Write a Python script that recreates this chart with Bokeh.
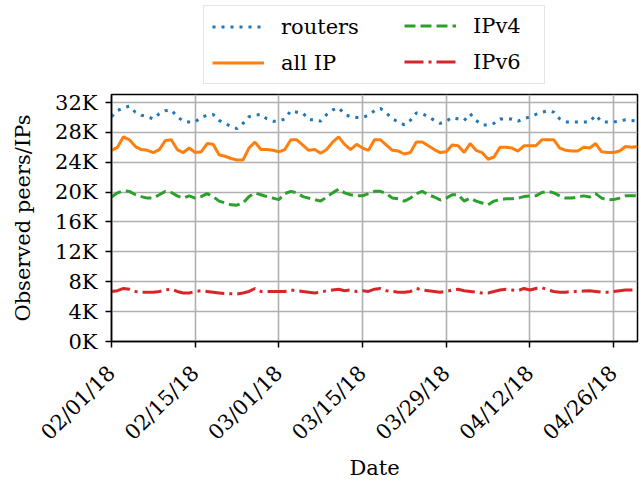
from datetime import datetime, timedelta

from bokeh.plotting import figure
from bokeh.layouts import column
from bokeh.models import (Legend, LegendItem, FixedTicker, DatetimeTickFormatter,
                          Range1d, ColumnDataSource)
from bokeh.embed import file_html
from bokeh.resources import INLINE

# ---------------- data (thousands) ----------------
start_date = datetime(2018, 2, 1)
n_days = 89

routers_k = [30.1, 30.9, 31.3, 31.5, 30.7, 30.3, 30.1, 29.8, 30.5, 30.9,
             31.0, 30.1, 29.5, 29.4, 29.4, 30.0, 30.3, 30.4, 29.6, 29.2,
             28.8, 28.5, 29.2, 30.1, 30.3, 30.4, 29.8, 29.5, 29.5, 29.8,
             30.9, 30.7, 30.6, 29.7, 29.7, 29.5, 30.4, 31.0, 31.3, 30.4,
             30.1, 30.0, 30.0, 30.3, 30.9, 31.2, 30.6, 29.8, 29.4, 29.0,
             29.6, 30.6, 30.5, 30.1, 29.6, 29.2, 29.5, 30.0, 29.8, 29.6,
             30.5, 29.6, 29.0, 29.0, 29.2, 29.8, 29.8, 29.8, 29.5, 29.8,
             30.1, 30.4, 30.7, 30.9, 30.7, 29.8, 29.4, 29.4, 29.4, 29.4,
             29.4, 30.3, 29.4, 29.4, 29.4, 29.5, 29.7, 29.6, 29.5]

all_ip_k = [25.6, 26.0, 27.4, 27.0, 26.1, 25.7, 25.6, 25.3, 25.7, 26.9,
            27.0, 25.7, 25.3, 25.9, 25.3, 25.4, 26.5, 26.4, 25.0, 24.8,
            24.5, 24.3, 24.3, 25.9, 26.7, 25.7, 25.7, 25.6, 25.4, 25.7,
            27.0, 27.0, 26.3, 25.6, 25.7, 25.2, 25.7, 26.7, 27.4, 26.4,
            25.7, 26.4, 25.9, 25.6, 27.0, 27.0, 26.3, 25.6, 25.5, 25.1,
            25.3, 26.7, 26.7, 26.2, 25.7, 25.3, 25.4, 26.3, 26.2, 25.3,
            26.5, 25.6, 25.3, 24.4, 24.7, 26.0, 26.0, 25.9, 25.5, 26.2,
            26.2, 26.2, 27.0, 27.0, 27.0, 25.9, 25.6, 25.5, 25.5, 26.0,
            25.9, 26.5, 25.4, 25.3, 25.3, 25.5, 26.1, 26.0, 26.1]

ipv4_k = [19.35, 19.9, 20.2, 20.1, 19.65, 19.4, 19.2, 19.2, 19.65, 20.1,
          19.95, 19.5, 19.2, 19.5, 19.2, 19.4, 19.8, 19.4, 18.8, 18.55,
          18.3, 18.25, 18.55, 19.4, 19.9, 19.65, 19.4, 19.2, 19.0, 19.8,
          20.1, 19.9, 19.4, 19.2, 19.0, 18.8, 19.35, 19.9, 20.4, 19.9,
          19.65, 19.5, 19.5, 19.8, 20.1, 20.1, 19.8, 19.2, 19.1, 18.8,
          19.2, 19.8, 20.1, 19.65, 19.35, 18.95, 19.2, 19.65, 19.65, 18.8,
          19.2, 18.8, 18.55, 18.3, 18.8, 19.0, 19.1, 19.1, 19.2, 19.4,
          19.5, 19.5, 19.95, 20.1, 19.9, 19.5, 19.2, 19.2, 19.35, 19.5,
          19.35, 19.8, 19.2, 18.95, 19.0, 19.2, 19.5, 19.5, 19.5]

ipv6_k = [6.7, 6.8, 7.1, 7.0, 6.7, 6.6, 6.6, 6.6, 6.7, 6.9,
          7.0, 6.7, 6.5, 6.5, 6.7, 6.8, 6.7, 6.6, 6.5, 6.4,
          6.4, 6.35, 6.5, 6.7, 7.1, 6.7, 6.7, 6.7, 6.7, 6.7,
          6.9, 6.8, 6.7, 6.6, 6.5, 6.6, 6.8, 6.9, 7.0, 6.8,
          6.9, 6.7, 6.8, 6.7, 7.0, 7.1, 6.8, 6.7, 6.6, 6.6,
          6.7, 7.1, 6.9, 6.8, 6.7, 6.6, 6.7, 6.9, 7.0, 6.8,
          6.7, 6.6, 6.5, 6.5, 6.7, 6.9, 7.0, 6.9, 6.8, 7.1,
          6.9, 7.1, 7.2, 6.9, 6.7, 6.6, 6.6, 6.7, 6.7, 6.75,
          6.8, 6.7, 6.6, 6.6, 6.7, 6.8, 6.9, 6.9, 6.9]

series_names = ["routers", "all IP", "IPv4", "IPv6"]
series_colors = ["#1f77b4", "#ff7f0e", "#2ca02c", "#d62728"]
series_dashes = ["3 6", "solid", "11 5", "19 5 3 5"]
y_ticks = [0, 4000, 8000, 12000, 16000, 20000, 24000, 28000, 32000]
x_tick_dates = ["2018-02-01", "2018-02-15", "2018-03-01", "2018-03-15",
                "2018-03-29", "2018-04-12", "2018-04-26"]

# ---------------- build ----------------
dates = [start_date + timedelta(days=i) for i in range(n_days)]
src = ColumnDataSource(dict(
    date=dates,
    routers=[v * 1000 for v in routers_k],
    all_ip=[v * 1000 for v in all_ip_k],
    ipv4=[v * 1000 for v in ipv4_k],
    ipv6=[v * 1000 for v in ipv6_k],
))
cols = ["routers", "all_ip", "ipv4", "ipv6"]

FONT = "DejaVu Serif"
FS = "21px"
LEG_H = 90
BL, BR, FW = 111, 3, 526

p = figure(frame_width=FW, frame_height=247, output_backend="svg",
           toolbar_location=None, x_axis_type="datetime",
           x_range=Range1d(dates[0], dates[-1]),
           y_range=Range1d(0, 33070),
           min_border_left=BL, min_border_right=BR,
           min_border_top=94 - LEG_H, min_border_bottom=140)

p.background_fill_color = "white"
p.border_fill_color = "white"
p.outline_line_color = "black"
p.outline_line_width = 1.5

for c, color, dash in zip(cols, series_colors, series_dashes):
    p.line("date", c, source=src, color=color, line_width=3, line_dash=dash)

# axes
tick_ms = [(datetime.strptime(d, "%Y-%m-%d") - datetime(1970, 1, 1)).total_seconds() * 1000
           for d in x_tick_dates]
xa = p.xaxis[0]
xa.ticker = FixedTicker(ticks=tick_ms)
fmt = "%m/%d/%y"
xa.formatter = DatetimeTickFormatter(days=fmt, months=fmt, years=fmt, hours=fmt,
                                     hourmin=fmt, minutes=fmt, context=None)
xa.major_label_orientation = 0.785398
xa.axis_label = "Date"

ya = p.yaxis[0]
ya.ticker = FixedTicker(ticks=y_ticks)
ya.major_label_overrides = {t: f"{t // 1000}K" for t in y_ticks}
ya.axis_label = "Observed peers/IPs"

for ax in (xa, ya):
    ax.major_label_text_font = FONT
    ax.major_label_text_font_size = FS
    ax.major_label_text_color = "black"
    ax.axis_label_text_font = FONT
    ax.axis_label_text_font_size = FS
    ax.axis_label_text_font_style = "normal"
    ax.axis_label_text_color = "black"
    ax.axis_line_color = "black"
    ax.axis_line_width = 1.5
    ax.major_tick_line_color = "black"
    ax.major_tick_line_width = 1.5
    ax.major_tick_out = 6
    ax.major_tick_in = 0
    ax.minor_tick_line_color = None

xa.major_label_standoff = 22
xa.axis_label_standoff = 0
ya.major_label_standoff = 8
ya.axis_label_standoff = 17

p.grid.grid_line_color = "#b0b0b0"
p.grid.grid_line_width = 1.6

# ---------------- legend strip ----------------
lf = figure(frame_width=FW, frame_height=LEG_H, output_backend="svg",
            toolbar_location=None, x_range=Range1d(0, 1), y_range=Range1d(0, 1),
            x_axis_location=None, y_axis_location=None,
            min_border_left=BL, min_border_right=BR, min_border_top=0,
            min_border_bottom=0)
lf.grid.visible = False
lf.outline_line_color = None
lf.background_fill_color = "white"
lf.border_fill_color = "white"
# legend-only renderers: same data, far outside this strip's ranges
dummy = [lf.line("date", c, source=src, color=color, line_width=3, line_dash=dash)
         for c, color, dash in zip(cols, series_colors, series_dashes)]


def make_legend(idx, loc, label_width, border):
    lg = Legend(items=[LegendItem(label=series_names[i], renderers=[dummy[i]]) for i in idx],
                orientation="vertical", location=loc)
    lg.label_text_font = FONT
    lg.label_text_font_size = FS
    lg.label_text_color = "black"
    lg.glyph_width = 52
    lg.glyph_height = 25
    lg.label_height = 25
    lg.label_width = label_width
    lg.label_standoff = 17
    lg.spacing = 11
    lg.padding = 8
    lg.margin = 0
    if border:
        lg.border_line_color = "#cccccc"
        lg.border_line_width = 1.5
        lg.background_fill_color = "white"
        lg.background_fill_alpha = 1.0
    else:
        lg.border_line_color = None
        lg.background_fill_alpha = 0.0
    return lg


# box spans page x 203..543; second column glyphs start at page x 412
leg1 = make_legend([0, 1], (203 - BL, 6), 340 - 16 - 69, True)
leg2 = make_legend([2, 3], (412 - 8 - BL, 16), 40, False)
lf.add_layout(leg1, "center")
lf.add_layout(leg2, "center")

layout = column(lf, p, spacing=0)
open("out.html", "w").write(file_html(layout, INLINE))
